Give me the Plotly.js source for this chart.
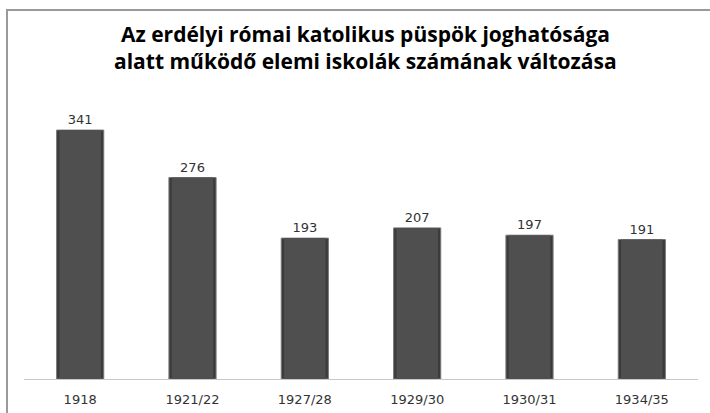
<!DOCTYPE html>
<html>
<head>
<meta charset="utf-8">
<script src="https://cdn.plot.ly/plotly-3.0.1.min.js"></script>
<style>
html,body{margin:0;padding:0;background:#fff;}
#wrap{position:relative;width:710px;height:413px;overflow:hidden;}
#chart{width:710px;height:413px;}
#frame{position:absolute;left:6px;top:9px;width:720px;height:420px;border-left:2px solid #9a9a9a;border-top:2px solid #9a9a9a;pointer-events:none;}
</style>
</head>
<body>
<div id="wrap"><div id="chart"></div><div id="frame"></div></div>
<script>
const categories = ["1918", "1921/22", "1927/28", "1929/30", "1930/31", "1934/35"];
const values = [341, 276, 193, 207, 197, 191];
const titleLines = ["Az erdélyi római katolikus püspök joghatósága", "alatt működő elemi iskolák számának változása"];

const outer = {
  type: 'bar',
  x: categories,
  y: values,
  width: 0.42,
  text: values.map(String),
  textposition: 'outside',
  cliponaxis: false,
  textfont: {family: 'DejaVu Sans', size: 13, color: '#333'},
  marker: {color: '#3b3b3b', line: {color: '#7a7a7a', width: 1}},
  hoverinfo: 'none'
};
const inner = {
  type: 'bar',
  x: categories,
  y: values,
  width: 0.37,
  marker: {color: '#4f4f4f', line: {width: 0}},
  hoverinfo: 'none'
};

const layout = {
  width: 710, height: 413,
  margin: {l: 24, r: 12, t: 87, b: 34},
  paper_bgcolor: '#fff', plot_bgcolor: '#fff',
  showlegend: false,
  barmode: 'overlay',
  annotations: titleLines.map((t, i) => ({
    text: '<b>' + t + '</b>',
    font: {family: 'Open Sans', size: 21, color: '#000'},
    xref: 'paper', yref: 'paper',
    x: 0.506, xanchor: 'center',
    y: (379 - (34 + 27 * i)) / 292, yanchor: 'middle',
    showarrow: false, align: 'center'
  })),
  xaxis: {
    type: 'category',
    range: [-0.5, 5.5],
    showline: true, linecolor: '#c8c8c8', linewidth: 1,
    ticks: '', showgrid: false,
    tickfont: {family: 'DejaVu Sans', size: 13, color: '#333'},
    ticklabelstandoff: 8
  },
  yaxis: {
    range: [0, 400],
    visible: false, showgrid: false, zeroline: false
  }
};

Plotly.newPlot('chart', [outer, inner], layout, {displayModeBar: false, staticPlot: true});
</script>
</body>
</html>
